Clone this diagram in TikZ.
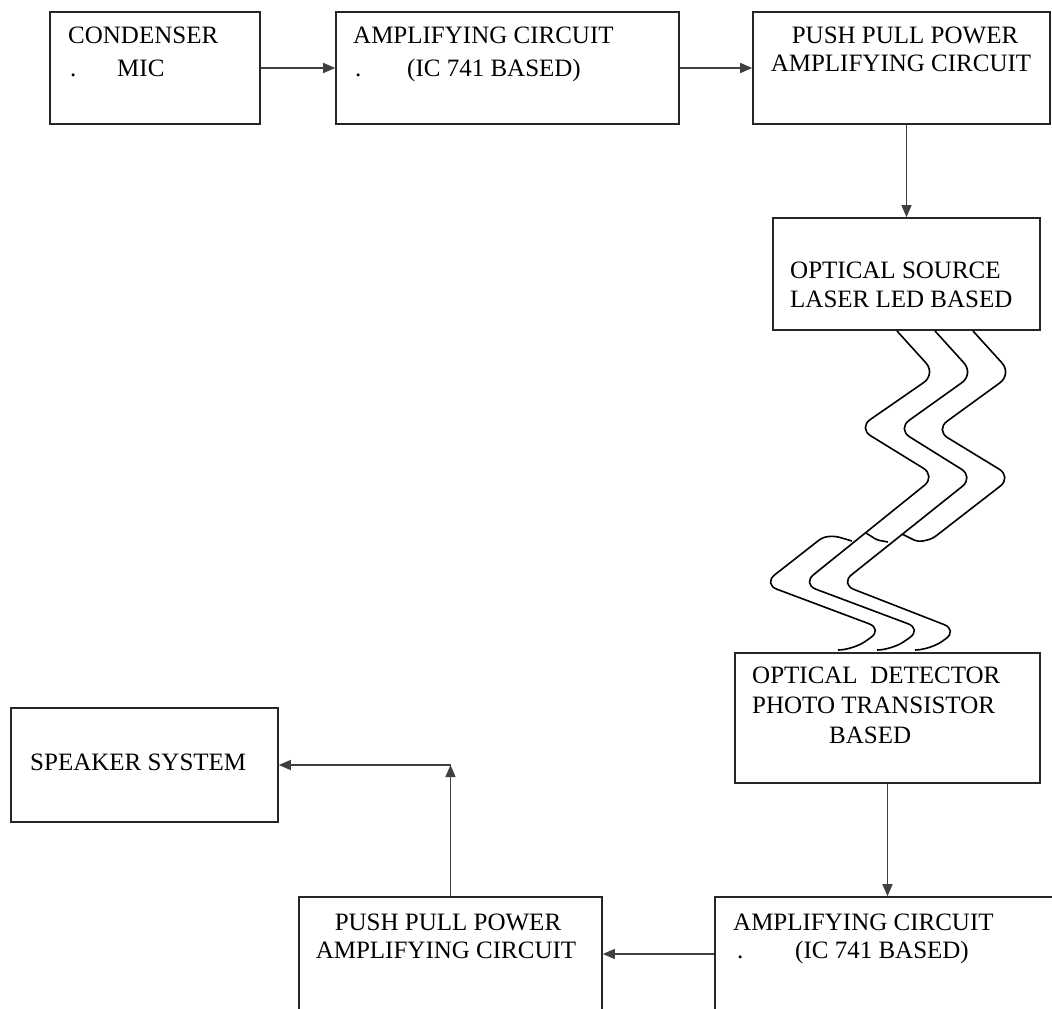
\documentclass[tikz,border=0pt]{standalone}
\usepackage{fontspec}
\setmainfont{Liberation Serif}
\usetikzlibrary{arrows.meta}
\begin{document}
\begin{tikzpicture}[x=1pt,y=-1pt,
  box/.style={draw=black!85,line width=1.6pt,inner sep=0pt,rectangle},
  lbl/.style={inner sep=0pt,anchor=base west,font=\fontsize{25}{30}\selectfont,text=black},
  lblc/.style={lbl,anchor=base},
  arr/.style={draw=black!75,line width=1.3pt,-{Triangle[length=12pt,width=10pt]}},
  fiber/.style={draw=black,line width=1.6pt,rounded corners=15pt}]
\clip (0,0) rectangle (1052,1009);
\fill[white] (0,0) rectangle (1052,1009);

% boxes
\node[box,minimum width=210pt,minimum height=112pt] (b1) at (155,68) {};
\node[box,minimum width=343pt,minimum height=112pt] (b2) at (507.5,68) {};
\node[box,minimum width=297pt,minimum height=112pt] (b3) at (901.5,68) {};
\node[box,minimum width=267pt,minimum height=112pt] (b4) at (906.5,274) {};
\node[box,minimum width=305pt,minimum height=130pt] (b5) at (887.5,718) {};
\node[box,minimum width=267pt,minimum height=114pt] (sp) at (144.5,765) {};
\node[box,minimum width=303pt,minimum height=130pt] (b7) at (450.5,962) {};
\node[box,minimum width=350pt,minimum height=130pt] (b6) at (890,962) {};

% texts
\node[lbl] (t1a) at (68,43) {CONDENSER};
\node[lbl] (t1d) at (70,76) {.};
\node[lbl] (t1b) at (117,76) {MIC};
\node[lbl] (t2a) at (353,43) {AMPLIFYING CIRCUIT};
\node[lbl] (t2d) at (355,76) {.};
\node[lbl] (t2b) at (407,76) {(IC 741 BASED)};
\node[lblc] (t3a) at (905,43) {PUSH PULL POWER};
\node[lblc] (t3b) at (901,71) {AMPLIFYING CIRCUIT};
\node[lbl] (t4a) at (790,278) {OPTICAL SOURCE};
\node[lbl] (t4b) at (790,307) {LASER LED BASED};
\node[lbl] (t5a) at (752,683) {OPTICAL~~DETECTOR};
\node[lbl] (t5b) at (752,713) {PHOTO TRANSISTOR};
\node[lbl] (t5c) at (829,743) {BASED};
\node[lbl] (tsp) at (30,770) {SPEAKER SYSTEM};
\node[lblc] (t7a) at (448,930) {PUSH PULL POWER};
\node[lblc] (t7b) at (446,958) {AMPLIFYING CIRCUIT};
\node[lbl] (t6a) at (733,930) {AMPLIFYING CIRCUIT};
\node[lbl] (t6d) at (737,958) {.};
\node[lbl] (t6b) at (795,958) {(IC 741 BASED)};

% connectors
\draw[arr] (b1.east) -- (b2.west);
\draw[arr] (b2.east) -- (b3.west);
\draw[arr] (b4.north |- b3.south) -- (b4.north);
\draw[arr] (b5.south) -- (b5.south |- b6.north);
\coordinate (c6) at (b6.west |- 0,954);
\draw[arr] (c6) -- (c6 -| b7.east);
\draw[arr] (b7.north) -- (b7.north |- sp.east);
\draw[arr] (b7.north |- sp.east) -- (sp.east);

% optical fibres
\draw[fiber] (897,331) -- (936,374) -- (858,428) -- (936,476) -- (802,584) -- (922,629) -- (892,650) [rounded corners=5pt] -- (877,650);
\draw[fiber] (935,331) -- (974,374) -- (897,429) -- (974,477) -- (840,584) -- (958,630) -- (930,650) [rounded corners=5pt] -- (915,650);
\draw[fiber] (973,331) -- (1012,374) -- (935,430) -- (1012,477) [rounded corners=5pt] -- (932,539) -- (918,542) -- (902,534);
\draw[fiber,rounded corners=5pt] (852,541) -- (835,536) -- (823,537) [rounded corners=15pt] -- (763,584) -- (883,629) -- (853,650) [rounded corners=5pt] -- (838,650);
\draw[fiber,rounded corners=3pt] (866,533) -- (877,540) -- (888,542);
\end{tikzpicture}
\end{document}
